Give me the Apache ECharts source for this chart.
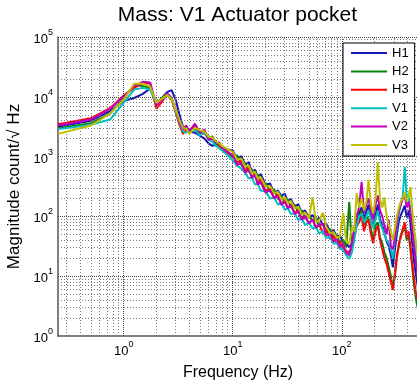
<!DOCTYPE html>
<html><head><meta charset="utf-8">
<script src="https://cdn.jsdelivr.net/npm/echarts@6/dist/echarts.min.js"></script>
<style>html,body{margin:0;padding:0;background:#fff}#c{width:417px;height:387px}</style>
</head><body><div id="c"></div>
<script>
// Frequencies (Hz)
const freq = [0.25,0.5,0.75,1,1.25,1.5,1.75,2,2.25,2.5,2.75,3,3.25,3.5,3.75,4,4.5,5,5.5,6,6.5,7,7.5,8,9,
  10,11,12,13,14,15,16,17,18,20,22,24,26,28,30,32,34,37,40,43,46,50,54,58,62,67,72,78,84,90,96,103,110,117,
  124,130,137,144,152,160,168,176,185,194,204,214,224,235,246,258,270,282,294,307,320,334,348,363,378,394,410,426,443,460,480,500];

const H1 = [3160,3980,5750,8510,9550,11200,13800,7940,9550,12000,12900,8910,5010,3160,3020,2630,2510,2240,2000,1660,1510,1580,1740,1380,1320,
  1260,912,1020,741,813,550,603,468,513,339,355,245,269,219,240,174,195,148,158,115,126,95.5,105,85.1,95.5,72.4,75.9,55.0,58.9,45.7,47.9,37.2,36.3,30.2,
  35.5,56.2,83.2,112,141,89.1,120,158,95.5,66.1,105,158,89.1,70.8,52.5,38.0,31.6,22.4,14.1,28.2,50.1,83.2,105,126,151,95.5,126,75.9,35.5,17.8,10.0,6.31];
const H2 = [2950,3630,5250,9330,15800,15100,14100,7240,9550,11200,9550,5890,3720,2820,3160,2510,2950,2400,2750,2000,2190,1660,1510,1450,1170,
  977,1050,724,776,550,617,457,501,355,363,257,282,195,219,170,195,141,155,115,126,93.3,105,83.2,93.3,67.6,75.9,56.2,61.7,43.7,47.9,37.2,40.7,30.9,174,
  31.6,52.5,112,89.1,126,70.8,100,89.1,63.1,39.8,70.8,79.4,44.7,35.5,25.1,20.0,14.1,10.0,6.31,11.2,22.4,31.6,50.1,56.2,70.8,39.8,50.1,28.2,14.1,7.08,3.98,2.82];
const H3 = [3470,4370,6460,10500,14100,17400,16600,6310,8320,11000,8910,5500,3390,2400,2820,2750,3310,2630,2400,2190,2000,1780,1580,1320,1120,
  1050,794,851,575,676,457,513,355,417,275,288,204,229,162,186,138,158,115,126,89.1,102,75.9,89.1,66.1,74.1,52.5,60.3,41.7,47.9,34.7,38.0,28.8,26.3,25.1,
  30.2,44.7,70.8,79.4,100,56.2,79.4,89.1,50.1,35.5,56.2,70.8,39.8,28.2,20.0,15.8,11.2,7.94,5.89,10.0,20.0,35.5,44.7,63.1,79.4,44.7,56.2,31.6,15.8,8.91,5.01,3.98];
const V1 = [2880,3390,4170,7940,13200,14100,13200,7590,9120,10500,9120,5750,3720,2630,2510,2820,2750,2290,2510,1910,1780,1510,1380,1260,1050,
  870,700,630,540,430,450,340,350,270,262,200,205,158,166,128,138,110,112,87,92,72,78,63,66,52,56,43.5,45.7,34.7,36.3,28.8,27.5,22.4,19.5,
  25.1,39.8,70.8,100,112,79.4,100,126,89.1,63.1,89.1,126,79.4,63.1,50.1,39.8,35.5,28.2,20.0,39.8,70.8,112,158,224,676,200,224,126,79.4,39.8,20.0,12.6];
const V2 = [3310,4170,6310,10000,15100,17800,17400,7240,8910,11500,9550,6030,3890,2880,3310,2630,3550,2510,2820,1910,2000,1740,1660,1410,1200,
  1050,724,776,537,617,437,490,339,380,251,275,200,219,155,178,135,155,110,120,87.1,102,75.9,89.1,64.6,72.4,75.9,47.9,52.5,38.0,42.7,30.9,34.7,24.5,22.4,
  35.5,63.1,100,141,380,112,158,200,126,89.1,158,224,126,100,70.8,50.1,87.1,31.6,28.2,44.7,79.4,126,158,200,224,141,178,112,63.1,31.6,15.8,10.0];
const V3 = [2400,3310,5250,8910,16600,16600,14800,7940,9330,10700,9330,6170,4070,3020,2950,2400,3020,2750,2630,2140,2090,1820,1660,1510,1320,
  1200,891,933,676,708,525,562,427,457,316,324,245,257,195,209,166,182,138,145,107,117,93.3,209,81.3,85.1,115,67.6,52.5,55.0,43.7,45.7,115,37.2,35.5,
  66.1,56.2,245,141,200,126,178,407,158,112,200,813,200,141,209,100,70.8,56.2,39.8,63.1,100,141,178,200,251,178,224,309,126,63.1,35.5,20.0];

const seriesNames = ['H1','H2','H3','V1','V2','V3'];
const seriesColors = ['#1414b4','#0a800a','#ff0000','#00bfbf','#bf00bf','#bfbf00'];

// grid / tick positions
const xMajor = [1,10,100];
const xMinor = [0.3,0.4,0.5,0.6,0.7,0.8,0.9,2,3,4,5,6,7,8,9,20,30,40,50,60,70,80,90,200,300,400];
const yMajor = [10,100,1000,10000,100000];
const yMinor = [2,3,4,5,6,7,8,9,20,30,40,50,60,70,80,90,200,300,400,500,600,700,800,900,
  2000,3000,4000,5000,6000,7000,8000,9000,20000,30000,40000,50000,60000,70000,80000,90000];

const FONT = '"Liberation Sans", Arial, Helvetica, sans-serif';
const titleText = 'Mass: V1 Actuator pocket';
const xName = 'Frequency (Hz)';
const yName = 'Magnitude count/\u221A Hz';

function pow10Label(v) {
  const e = Math.round(Math.log10(v));
  if (Math.abs(v / Math.pow(10, e) - 1) > 1e-6) return '';
  return '{b|10}{s|' + e + '}';
}
const rich = {
  b: {fontSize: 13, fontFamily: FONT, color: '#000', lineHeight: 18, verticalAlign: 'bottom'},
  s: {fontSize: 9, fontFamily: FONT, color: '#000', lineHeight: 18, verticalAlign: 'top'}
};

const gridLines = [];
xMinor.forEach(v => gridLines.push({xAxis: v, lineStyle: {type: [1, 2], color: '#7a7a7a', width: 1}}));
yMinor.forEach(v => gridLines.push({yAxis: v, lineStyle: {type: [1, 2], color: '#7a7a7a', width: 1}}));
xMajor.forEach(v => gridLines.push({xAxis: v, lineStyle: {type: [1, 1], color: '#444', width: 1}}));
yMajor.forEach(v => gridLines.push({yAxis: v, lineStyle: {type: [1, 1], color: '#444', width: 1}}));

const dataSets = [H1, H2, H3, V1, V2, V3];

const chart = echarts.init(document.getElementById('c'), null, {renderer: 'canvas'});
chart.setOption({
  animation: false,
  backgroundColor: '#fff',
  grid: {left: 58, top: 37, width: 360, height: 299, containLabel: false, outerBoundsMode: 'none'},
  graphic: [{
    type: 'text', x: 237.5, y: 15,
    style: {text: titleText, font: '21px ' + FONT, fill: '#000', align: 'center', verticalAlign: 'middle',
            textAlign: 'center', textVerticalAlign: 'middle'}
  }],
  legend: {
    data: seriesNames, orient: 'vertical', left: 343, top: 43,
    icon: 'rect', itemWidth: 36, itemHeight: 2, itemGap: 4.4, padding: [3, 6, 4, 8],
    backgroundColor: '#fff', borderColor: '#000', borderWidth: 1, borderRadius: 0,
    selectedMode: false, z: 10,
    textStyle: {fontSize: 13, lineHeight: 14, fontFamily: FONT, color: '#000'}
  },
  xAxis: {
    type: 'log', logBase: 10, min: 0.25, max: 500, splitNumber: 4,
    axisLine: {show: true, onZero: false, lineStyle: {color: '#555', width: 1.5}},
    axisTick: {show: false}, splitLine: {show: false},
    axisLabel: {formatter: pow10Label, rich: rich, margin: 4, showMinLabel: true, showMaxLabel: true},
    name: xName, nameLocation: 'middle', nameGap: 29,
    nameTextStyle: {fontSize: 16, fontFamily: FONT, color: '#000'}
  },
  yAxis: {
    type: 'log', logBase: 10, min: 1, max: 100000, splitNumber: 5,
    axisLine: {show: true, onZero: false, lineStyle: {color: '#555', width: 1.5}},
    axisTick: {show: false}, splitLine: {show: false},
    axisLabel: {formatter: pow10Label, rich: rich, margin: 5},
    name: yName, nameLocation: 'middle', nameGap: 22,
    nameTextStyle: {fontSize: 17, fontFamily: FONT, color: '#000'}
  },
  series: [{
    type: 'line', data: [], z: 1, silent: true,
    markLine: {silent: true, symbol: ['none', 'none'], label: {show: false}, animation: false, data: gridLines}
  }].concat(dataSets.map((d, i) => ({
    name: seriesNames[i], type: 'line', data: freq.map((f, j) => [f, d[j]]),
    showSymbol: false, symbol: 'none', z: 2 + i,
    lineStyle: {width: 2, color: seriesColors[i]}, itemStyle: {color: seriesColors[i]},
    emphasis: {disabled: true}
  })))
});
</script></body></html>
